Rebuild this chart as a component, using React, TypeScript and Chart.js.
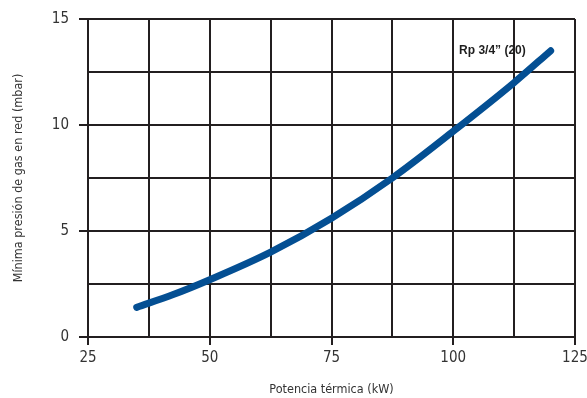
import React, { useEffect, useRef } from "react";
import { Chart, registerables } from "chart.js";

Chart.register(...registerables);

const potencia = [35, 42.5, 50, 62.5, 75, 87.5, 100, 112.5, 120];
const presion = [1.4, 2.0, 2.7, 4.0, 5.6, 7.5, 9.7, 12.0, 13.5];
const curveLabel = "Rp 3/4\u201d (20)";
const xTitle = "Potencia térmica (kW)";
const yTitle = "Mínima presión de gas en red (mbar)";

const FONT = "'Liberation Sans Narrow', 'DejaVu Sans Condensed', 'Roboto Condensed', sans-serif";

export default function App() {
  const ref = useRef<HTMLCanvasElement | null>(null);
  useEffect(() => {
    document.body.style.margin = "0";
    const labelPlugin = {
      id: "curveLabel",
      afterDatasetsDraw(chart: any) {
        const { ctx, scales } = chart;
        const px = scales.x.getPixelForValue(101.2);
        const py = scales.y.getPixelForValue(13.5);
        ctx.save();
        ctx.font = "bold 12px 'Liberation Sans', Arial, sans-serif";
        ctx.fillStyle = "#1e1e1e";
        ctx.textAlign = "left";
        ctx.textBaseline = "middle";
        ctx.fillText(curveLabel, px, py);
        ctx.restore();
      },
    };
    const chart = new Chart(ref.current!, {
      type: "line",
      data: {
        datasets: [
          {
            data: potencia.map((x, i) => ({ x, y: presion[i] })),
            borderColor: "#044f93",
            borderWidth: 7,
            borderCapStyle: "round",
            pointRadius: 0,
            cubicInterpolationMode: "monotone",
            fill: false,
          },
        ],
      },
      options: {
        animation: false,
        responsive: false,
        maintainAspectRatio: false,
        layout: { padding: { top: 19, right: 12, left: 0, bottom: 0 } },
        plugins: { legend: { display: false }, tooltip: { enabled: false } },
        scales: {
          x: {
            type: "linear",
            min: 25,
            max: 125,
            border: { display: false },
            grid: {
              color: "#231f20",
              lineWidth: 2,
              tickLength: 8,
              tickColor: (ctx: any) =>
                ctx.tick && ctx.tick.value % 25 === 0 ? "#231f20" : "rgba(0,0,0,0)",
              tickWidth: 2,
            },
            ticks: {
              stepSize: 12.5,
              autoSkip: false,
              maxRotation: 0,
              color: "#333",
              font: { family: FONT, size: 15 },
              padding: 4,
              callback: (v: any) => (Number(v) % 25 === 0 ? String(v) : ""),
            },
            title: {
              display: true,
              text: xTitle,
              color: "#333",
              font: { family: FONT, size: 12.5 },
              padding: { top: 0, bottom: 1 },
            },
            afterFit: (s: any) => {
              s.height = 61;
              s.paddingLeft = 0;
              s.paddingRight = 0;
            },
          },
          y: {
            type: "linear",
            min: 0,
            max: 15,
            border: { display: false },
            grid: {
              color: "#231f20",
              lineWidth: 2,
              tickLength: 9,
              tickColor: (ctx: any) =>
                ctx.tick && ctx.tick.value % 5 === 0 ? "#231f20" : "rgba(0,0,0,0)",
              tickWidth: 2,
            },
            ticks: {
              stepSize: 2.5,
              autoSkip: false,
              color: "#333",
              font: { family: FONT, size: 15 },
              padding: 10,
              callback: (v: any) => (Number(v) % 5 === 0 ? String(v) : ""),
            },
            title: {
              display: true,
              text: yTitle,
              color: "#333",
              font: { family: FONT, size: 12.5 },
              padding: { top: 11, bottom: 0 },
            },
            afterFit: (s: any) => {
              s.width = 88;
              s.paddingTop = 0;
              s.paddingBottom = 0;
            },
          },
        },
      },
      plugins: [labelPlugin],
    } as any);
    return () => chart.destroy();
  }, []);
  return <canvas ref={ref} width={587} height={398} style={{ display: "block" }} />;
}
